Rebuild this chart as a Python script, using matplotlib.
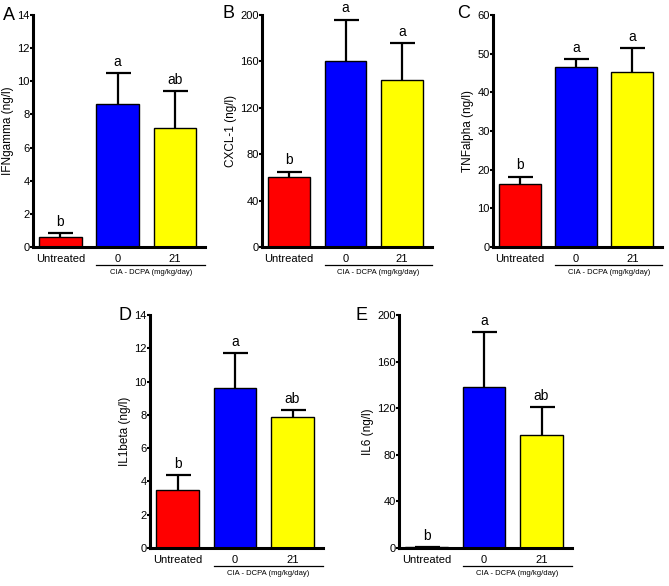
import matplotlib.pyplot as plt
from matplotlib import transforms

plt.rcParams['font.family'] = ['Liberation Sans', 'DejaVu Sans']

# groups and colours
groups = ['Untreated', '0', '21']
bar_colors = ['#ff0000', '#0000ff', '#ffff00']

# panel data: mean, upper error (SEM), significance letters
panel_names = ['A', 'B', 'C', 'D', 'E']
ylabels = ['IFNgamma (ng/l)', 'CXCL-1 (ng/l)', 'TNFalpha (ng/l)', 'IL1beta (ng/l)', 'IL6 (ng/l)']
means_A = [0.6, 8.6, 7.2]
errs_A = [0.25, 1.9, 2.2]
means_B = [60, 160, 144]
errs_B = [5, 36, 32]
means_C = [16.2, 46.5, 45.3]
errs_C = [2.0, 2.0, 6.1]
means_D = [3.5, 9.6, 7.9]
errs_D = [0.9, 2.1, 0.4]
means_E = [0.5, 138, 97]
errs_E = [0, 47, 24]
letters_A = ['b', 'a', 'ab']
letters_B = ['b', 'a', 'a']
letters_C = ['b', 'a', 'a']
letters_D = ['b', 'a', 'ab']
letters_E = ['b', 'a', 'ab']
ymax = [14, 200, 60, 14, 200]
ystep = [2, 40, 10, 2, 40]

means = [means_A, means_B, means_C, means_D, means_E]
errs = [errs_A, errs_B, errs_C, errs_D, errs_E]
letters = [letters_A, letters_B, letters_C, letters_D, letters_E]

# axes boxes in pixels: left, right, top, bottom
W, H = 669, 586
boxes = [(33, 205, 15, 247), (262, 432, 15, 247), (493, 662, 15, 247),
         (150, 323, 315, 548), (399, 572, 315, 548)]
# panel letter positions (pixels, top-left)
letter_pos = [(3, 7), (222, 5), (457, 5), (118, 307), (355, 307)]

fig = plt.figure(figsize=(W / 100, H / 100), dpi=100)

for i in range(5):
    l, r, t, b = boxes[i]
    ax = fig.add_axes([l / W, 1 - b / H, (r - l) / W, (b - t) / H])
    x = range(3)
    ax.bar(x, means[i], width=0.74, color=bar_colors, edgecolor='black', linewidth=1.0, zorder=2)
    eb = ax.errorbar(x, means[i], yerr=[[0, 0, 0], errs[i]], fmt='none', ecolor='black',
                     elinewidth=1.6, capsize=9, capthick=1.6, zorder=1)
    # keep only the upper caps
    eb[1][0].set_visible(False)
    for j in range(3):
        top = means[i][j] + errs[i][j]
        ax.annotate(letters[i][j], (j, top), xytext=(0, 3), textcoords='offset points',
                    ha='center', va='bottom', fontsize=10)
    ax.set_xlim(-0.48, 2.53)
    ax.set_ylim(0, ymax[i])
    ax.set_yticks(range(0, ymax[i] + 1, ystep[i]))
    ax.set_xticks(list(x))
    ax.set_xticklabels(groups, fontsize=8)
    ax.tick_params(axis='x', length=0, pad=5)
    ax.tick_params(axis='y', labelsize=8, width=1.5, length=2, pad=0.5)
    ax.spines['top'].set_visible(False)
    ax.spines['right'].set_visible(False)
    ax.spines['left'].set_linewidth(2.2)
    ax.spines['bottom'].set_linewidth(2.2)
    ax.set_ylabel(ylabels[i], fontsize=8.5, labelpad=2)

    # bracket under the CIA groups
    trans = transforms.blended_transform_factory(ax.transData, ax.transAxes)
    ax.plot([0.63, 2.53], [-0.078, -0.078], color='black', lw=0.9, transform=trans, clip_on=False)
    ax.text(1.58, -0.095, 'CIA - DCPA (mg/kg/day)', transform=trans, ha='center', va='top', fontsize=5.5)

    # panel letter
    px, py = letter_pos[i]
    fig.text(px / W, 1 - py / H, panel_names[i], fontsize=13, ha='left', va='top')

fig.savefig('out.png', dpi=100)
